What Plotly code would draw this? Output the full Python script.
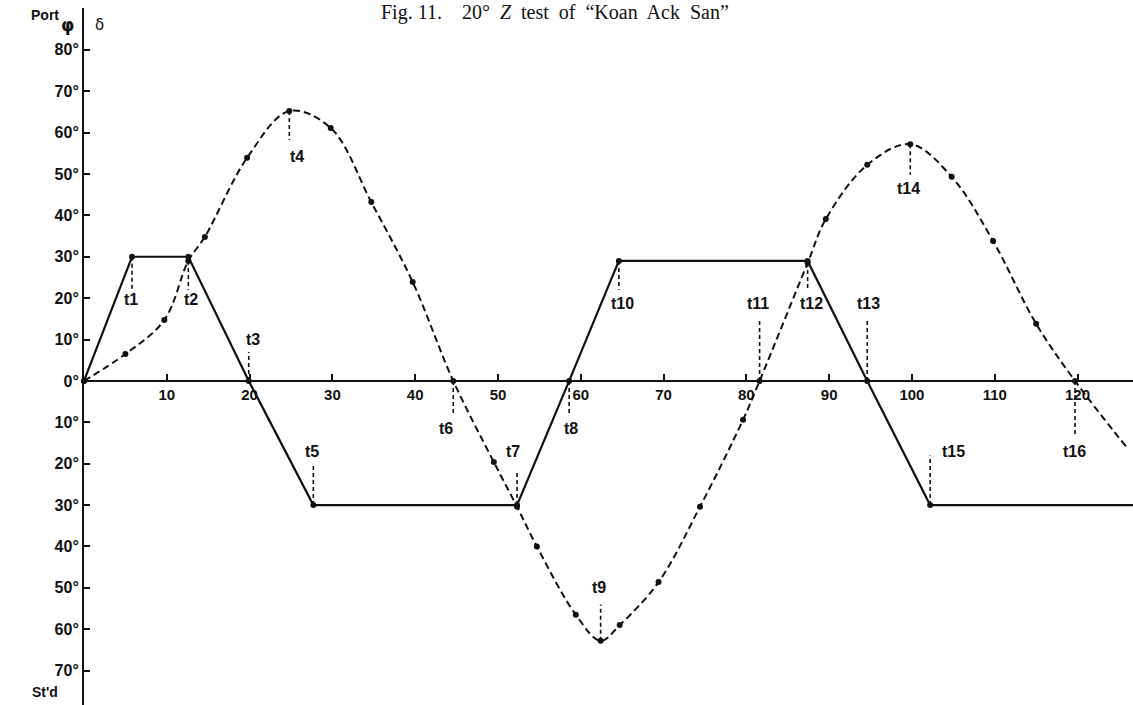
import plotly.graph_objects as go

# ---- data ----
# rudder angle (solid line), degrees, Port positive
rudder_t = [0, 5.8, 12.6, 19.9, 27.7, 52.3, 58.6, 64.6, 87.4, 94.6, 102.2, 126.7]
rudder = [0, 30, 30, 0, -30, -30, 0, 29, 29, 0, -30, -30]

# heading (dashed line with dots), degrees
heading_t = [0, 5.0, 9.7, 12.6, 14.6, 19.7, 24.8, 29.8, 34.7, 39.7, 44.6, 49.5,
             52.3, 54.7, 59.4, 62.4, 64.7, 69.4, 74.4, 79.6, 81.6, 87.4, 89.6,
             94.6, 99.8, 104.8, 109.8, 115.0, 119.7, 126.0]
heading = [0, 6.5, 14.7, 29, 34.8, 53.9, 65.2, 61.1, 43.2, 23.9, 0, -19.6,
           -30.4, -40, -56.5, -62.8, -59, -48.6, -30.4, -9.4, 0, 28.5, 39.1,
           52.2, 57.2, 49.3, 33.8, 13.8, 0, -16.2]

# event marks t1..t16
event_names = ["t1", "t2", "t3", "t4", "t5", "t6", "t7", "t8", "t9", "t10",
               "t11", "t12", "t13", "t14", "t15", "t16"]
event_t = [5.8, 12.6, 19.9, 24.8, 27.7, 44.6, 52.3, 58.6, 62.4, 64.6,
           81.6, 87.4, 94.6, 99.8, 102.2, 119.7]
event_val = [30, 29, 0, 65.2, -30, 0, -30, 0, -62.8, 29,
             0, 28.5, 0, 57.2, -30, 0]

x_ticks = [10, 20, 30, 40, 50, 60, 70, 80, 90, 100, 110, 120]
y_ticks = [80, 70, 60, 50, 40, 30, 20, 10, 0, -10, -20, -30, -40, -50, -60, -70]
y_ticktext = [f"{abs(v)}°" for v in y_ticks]

# ---- label placement (layout) ----
leader_end = [22, 22, 7, 58.2, -20.3, -8.2, -21.5, -8.2, -54, 22,
              15.2, 22, 15.2, 49.8, -18, -13]
label_y = [19.6, 19.6, 9.9, 54.3, -17.1, -11.6, -17.1, -11.4, -50, 18.8,
           18.8, 18.8, 18.8, 46.6, -17.1, -17.1]
label_dx = [-1, 3, 4, 8, -1, -7, -4, 2, -2, 4, -2, 4, 1, -2, 23, -1]

Y_RANGE = [-78.3, 90.1]
X_RANGE = [0, 126.7]
INK = "#111111"
BOLD = "Liberation Sans"

fig = go.Figure()

fig.add_trace(go.Scatter(
    x=heading_t, y=heading, mode="lines",
    line=dict(color=INK, width=2, dash="7px,4px", shape="spline", smoothing=1.0),
    cliponaxis=False, hoverinfo="skip", showlegend=False))
fig.add_trace(go.Scatter(
    x=heading_t[:-1], y=heading[:-1], mode="markers",
    marker=dict(color=INK, size=6), cliponaxis=False, showlegend=False))
fig.add_trace(go.Scatter(
    x=rudder_t, y=rudder, mode="lines",
    line=dict(color=INK, width=2.2), cliponaxis=False, showlegend=False))
fig.add_trace(go.Scatter(
    x=rudder_t[:-1], y=rudder[:-1], mode="markers",
    marker=dict(color=INK, size=6), cliponaxis=False, showlegend=False))

shapes = []
annotations = []
for name, t, v, le, ly, dx in zip(event_names, event_t, event_val, leader_end, label_y, label_dx):
    shapes.append(dict(type="line", xref="x", yref="y", x0=t, x1=t, y0=v, y1=le,
                       line=dict(color=INK, width=1.6, dash="4px,3px")))
    annotations.append(dict(x=t, y=ly, xref="x", yref="y", text=name,
                            showarrow=False, xshift=dx, xanchor="center", yanchor="middle",
                            font=dict(family=BOLD, size=16, color=INK, weight=700)))

# title and side labels
annotations += [
    dict(x=0.449, y=1, xref="paper", yref="paper", xanchor="center", yanchor="middle",
         yshift=-4,
         text="Fig. 11.    20°  <i>Z</i>  test  of  “Koan  Ack  San”", showarrow=False,
         font=dict(family="Liberation Serif", size=20, color=INK)),
    dict(x=0, y=1, xref="paper", yref="paper", xanchor="center", yanchor="middle",
         xshift=-39, yshift=-7,
         text="Port", showarrow=False,
         font=dict(family=BOLD, size=14, color=INK, weight=700)),
    dict(x=0, y=1, xref="paper", yref="paper", xanchor="center", yanchor="middle",
         xshift=-17, yshift=-17,
         text="φ", showarrow=False,
         font=dict(family="DejaVu Sans", size=17, color=INK, weight=700)),
    dict(x=0, y=1, xref="paper", yref="paper", xanchor="center", yanchor="middle",
         xshift=15, yshift=-17,
         text="δ", showarrow=False,
         font=dict(family="DejaVu Sans", size=15, color=INK)),
    dict(x=0, y=0, xref="paper", yref="paper", xanchor="center", yanchor="middle",
         xshift=-39, yshift=13,
         text="St'd", showarrow=False,
         font=dict(family=BOLD, size=14, color=INK, weight=700)),
]

zero_pos = (0 - Y_RANGE[0]) / (Y_RANGE[1] - Y_RANGE[0])

fig.update_layout(
    width=1133, height=705,
    margin=dict(l=84, r=0, t=8, b=0),
    paper_bgcolor="white", plot_bgcolor="white",
    showlegend=False,
    shapes=shapes, annotations=annotations,
    xaxis=dict(range=X_RANGE, anchor="free", position=zero_pos,
               showgrid=False, zeroline=False, showline=True,
               linecolor=INK, linewidth=2,
               tickmode="array", tickvals=x_ticks, ticktext=[str(v) for v in x_ticks],
               ticks="inside", ticklen=6, tickwidth=1.5, tickcolor=INK,
               tickfont=dict(family=BOLD, size=15, color=INK, weight=700)),
    yaxis=dict(range=Y_RANGE, showgrid=False, zeroline=False, showline=True,
               linecolor=INK, linewidth=2,
               tickmode="array", tickvals=y_ticks, ticktext=y_ticktext,
               ticks="inside", ticklen=6, tickwidth=1.5, tickcolor=INK,
               tickfont=dict(family=BOLD, size=16, color=INK, weight=700)),
)

fig.write_html(
    "out.html",
    config={"displayModeBar": False},
    post_script="document.body.style.margin='0';document.body.style.overflow='hidden';",
)
